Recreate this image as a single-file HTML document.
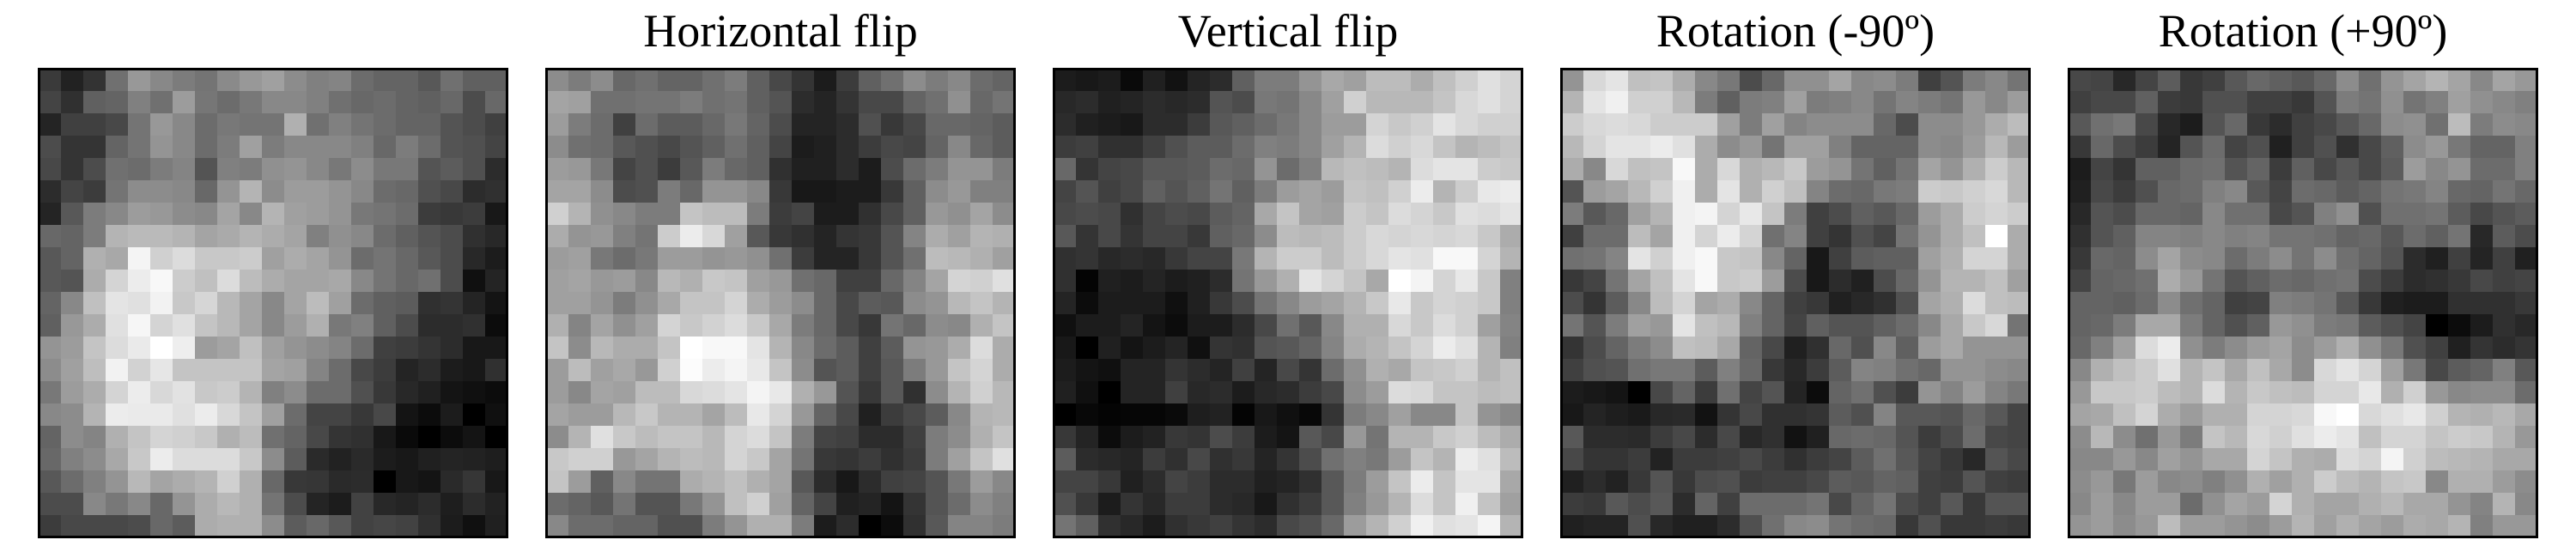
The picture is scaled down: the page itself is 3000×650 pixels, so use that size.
<!DOCTYPE html>
<html><head><meta charset="utf-8"><style>
html,body{margin:0;padding:0;background:#fff;width:3000px;height:650px;overflow:hidden}
text{font-family:"Liberation Serif",serif}
</style></head><body>
<svg id="fig" width="3000" height="650" viewBox="0 0 3000 650" xmlns="http://www.w3.org/2000/svg">
<rect x="0" y="0" width="3000" height="650" fill="#fff"/>
</svg>
<script>
const titles = ["", "Horizontal flip", "Vertical flip", "Rotation (-90º)", "Rotation (+90º)"];
const panel1 = [
[58,34,51,112,152,136,124,116,138,152,160,140,128,132,108,100,100,88,112,96,96],
[68,48,96,100,128,112,156,118,108,120,136,136,128,112,104,108,100,96,104,76,104],
[36,64,64,72,116,152,136,108,120,116,116,176,112,128,116,108,100,100,84,76,64],
[76,52,52,100,116,148,136,108,124,160,124,136,136,136,128,104,124,108,84,80,68],
[72,52,76,112,108,124,132,84,128,124,144,148,136,120,140,120,120,84,92,80,44],
[44,68,60,116,140,140,136,104,148,180,140,156,156,148,136,108,104,80,72,44,48],
[36,88,124,136,156,152,140,136,164,136,180,160,156,148,120,116,108,60,56,60,24],
[104,100,124,180,186,186,180,164,170,180,172,164,128,144,136,108,96,84,76,48,40],
[88,100,176,168,244,208,220,200,200,204,160,172,164,148,108,116,104,88,76,40,28],
[88,84,172,212,236,248,204,192,220,188,172,164,164,168,136,116,104,112,76,16,36],
[100,136,192,228,224,242,200,214,184,164,136,164,188,160,108,96,92,48,52,36,20],
[96,152,172,224,246,212,224,196,184,164,136,156,176,120,128,96,76,44,44,48,12],
[148,156,196,220,234,255,238,156,164,192,160,148,140,132,108,64,60,52,44,24,24],
[140,160,190,242,210,230,196,196,196,196,164,160,132,108,72,60,36,44,28,24,48],
[120,156,172,212,236,216,226,200,204,180,128,140,108,108,80,56,40,32,20,16,12],
[136,140,180,236,234,234,224,236,216,196,160,108,68,68,56,72,20,12,28,0,16],
[100,140,132,176,196,212,208,200,176,188,112,100,72,52,48,24,10,0,12,20,0],
[104,128,140,168,200,236,220,220,220,200,140,92,42,34,42,28,24,32,36,34,30],
[88,108,128,148,184,164,172,180,208,176,104,56,54,42,44,0,24,20,42,54,24],
[76,76,136,120,136,104,148,172,184,176,116,76,36,28,66,40,36,44,30,44,34],
[60,72,72,72,76,104,92,172,176,176,140,92,104,88,66,70,66,48,28,16,32]];
const panel2 = [
[140,124,140,104,112,100,100,112,124,96,72,52,28,60,96,112,140,124,136,108,100],
[164,160,112,112,116,116,124,112,116,96,84,44,36,52,72,72,100,112,144,104,116],
[156,124,108,64,108,92,92,104,120,100,76,36,36,44,80,56,72,104,104,100,92],
[140,112,108,88,80,72,84,96,112,96,68,28,32,44,60,72,68,100,136,104,92],
[156,152,120,68,80,60,88,124,104,96,48,32,32,44,28,76,108,124,148,148,124],
[164,164,140,76,80,124,104,148,148,136,56,24,24,28,28,56,96,140,152,128,128],
[208,180,144,136,124,124,196,188,188,124,60,68,28,28,48,72,96,152,144,164,140],
[172,148,152,128,116,204,236,216,160,88,56,48,36,52,56,84,132,172,160,180,176],
[156,160,120,108,120,156,156,148,152,144,112,60,36,36,56,84,112,188,184,176,160],
[160,164,152,156,136,184,176,200,196,160,152,112,104,64,64,104,132,164,212,208,224],
[160,160,148,124,144,168,196,196,212,172,156,140,104,72,92,88,140,148,184,196,180],
[176,132,164,144,160,212,200,210,220,200,168,124,104,72,56,116,104,140,136,176,196],
[196,140,184,172,172,196,255,248,248,228,180,136,108,92,64,92,148,152,172,220,172],
[156,188,160,168,152,208,252,236,244,232,196,140,84,92,64,88,124,152,196,212,172],
[156,136,164,160,188,188,216,220,228,244,232,176,152,84,56,88,48,140,180,208,184],
[164,156,156,184,200,180,180,164,188,232,212,152,100,72,32,60,72,92,136,180,184],
[140,180,224,200,188,196,196,184,212,220,196,124,68,64,44,44,64,124,140,176,196],
[200,208,208,152,164,180,188,184,212,200,164,116,56,52,60,48,60,124,160,196,224],
[196,156,96,136,116,116,172,180,192,176,164,88,44,24,44,64,68,84,120,156,136],
[108,100,88,116,84,84,120,148,192,208,160,100,68,32,36,20,52,84,108,140,128],
[136,108,108,100,100,80,80,124,148,176,176,124,28,44,0,12,48,88,132,132,124]];
const panel3 = [
[28,24,28,10,32,18,36,44,96,124,124,148,168,160,188,188,172,192,208,224,212],
[40,44,32,36,44,40,44,84,76,120,116,136,160,208,184,184,184,196,216,224,212],
[44,32,28,24,44,44,60,88,96,108,120,136,156,156,212,200,208,228,216,208,208],
[60,64,48,48,64,80,92,92,108,128,124,136,160,180,220,208,216,196,180,188,196],
[104,52,68,72,88,88,92,108,104,148,108,128,184,192,188,180,220,228,228,204,200],
[68,84,64,72,96,84,96,116,96,124,156,164,156,196,192,208,236,180,204,232,236],
[72,76,72,48,68,76,72,92,100,168,196,164,160,204,196,220,212,200,224,220,228],
[88,52,72,52,68,68,56,96,104,140,188,184,188,204,216,212,216,212,216,200,172],
[48,52,40,44,40,56,68,68,120,180,204,204,188,204,216,228,224,248,248,212,180],
[48,4,32,28,36,28,32,44,116,152,176,228,212,196,168,255,244,212,232,200,128],
[36,12,28,28,28,16,32,56,76,116,136,156,164,180,200,232,200,212,208,200,128],
[16,28,28,36,20,12,28,28,44,72,112,88,136,176,176,216,200,220,208,160,132],
[24,0,32,20,28,36,16,52,48,84,88,100,132,172,180,196,212,236,224,180,128],
[28,20,16,36,36,52,44,36,64,36,72,52,108,144,176,168,196,200,208,180,192],
[32,16,0,36,36,64,40,44,28,40,44,60,72,140,156,220,216,196,196,188,192],
[0,8,4,6,6,10,30,34,4,24,16,8,52,124,136,160,136,136,196,148,136],
[56,36,12,28,34,56,52,76,60,28,20,88,72,152,116,180,180,200,208,188,172],
[92,44,40,36,60,48,72,48,56,36,52,76,112,128,120,156,196,180,236,224,188],
[68,68,56,32,44,68,60,44,44,32,36,48,88,124,156,196,236,196,228,228,168],
[80,56,28,52,40,60,60,44,40,24,48,60,88,128,152,180,220,196,240,196,160],
[116,96,48,40,28,48,56,64,52,44,72,80,104,156,180,208,240,224,228,244,180]];
const panel4 = [
[148,216,228,192,196,172,136,120,76,104,144,144,164,136,140,124,64,84,124,136,116],
[180,228,240,208,208,184,124,96,124,128,160,124,128,136,116,132,124,116,152,136,156],
[204,216,220,216,204,204,204,160,124,160,132,140,140,140,104,76,140,140,152,172,188],
[184,212,228,228,236,224,172,140,152,116,160,160,128,100,100,100,140,136,156,184,156],
[172,136,216,192,196,248,172,216,176,184,200,156,148,116,96,116,164,148,176,204,184],
[84,156,164,184,208,240,172,228,176,208,192,132,108,104,120,124,204,200,208,216,184],
[124,88,104,160,180,240,244,212,232,196,124,64,76,96,88,104,156,172,204,212,204],
[64,108,108,188,164,240,212,236,212,112,132,64,52,80,68,116,148,172,192,255,172],
[112,116,132,228,208,240,248,200,196,136,100,24,64,92,96,96,160,176,212,212,172],
[56,68,116,164,192,228,248,200,204,156,76,24,44,32,76,104,148,180,180,192,160],
[76,52,92,136,188,212,164,172,136,100,64,56,32,40,48,80,164,176,220,192,188],
[116,84,124,160,152,228,192,184,128,100,68,96,84,84,96,108,136,168,200,216,116],
[52,76,100,124,140,192,188,168,100,72,32,48,104,80,136,96,156,168,148,148,148],
[64,80,84,112,120,120,92,128,104,56,40,60,92,132,128,112,104,148,148,140,136],
[28,24,20,0,72,100,60,112,68,84,36,12,100,112,80,60,148,132,156,132,120],
[24,36,30,26,40,42,18,52,72,48,48,52,92,80,132,88,88,84,104,88,68],
[88,44,44,42,60,72,44,72,40,48,18,32,104,108,104,84,60,76,108,72,68],
[72,52,52,60,34,60,60,64,72,60,48,60,68,92,112,88,68,56,40,84,72],
[32,44,34,56,84,56,76,80,60,64,64,72,92,88,100,96,64,60,84,64,60],
[60,56,88,76,88,44,100,64,108,108,108,116,72,100,116,76,64,88,56,84,84],
[32,36,36,80,40,32,32,44,80,112,136,140,116,108,104,56,80,56,56,60,56]];
const panel5 = [
[72,68,40,68,92,56,64,88,104,96,88,104,140,112,148,164,180,164,136,164,152],
[64,72,72,96,60,56,80,80,64,64,56,84,124,116,144,116,128,160,144,136,128],
[88,112,120,72,40,28,84,104,56,44,64,72,88,104,140,144,112,188,124,140,136],
[56,104,76,60,36,84,108,68,80,32,64,80,48,72,96,140,152,120,100,100,128],
[28,68,52,96,96,108,112,84,100,60,96,72,88,72,92,156,136,148,108,108,128],
[32,72,60,80,104,108,128,136,88,68,108,104,92,100,116,120,132,104,100,116,104],
[40,84,76,104,104,100,136,112,112,72,84,128,144,80,112,112,116,92,72,84,92],
[48,84,96,132,132,128,136,128,132,116,116,112,100,104,88,108,96,116,40,92,76],
[56,104,100,140,164,140,136,108,124,140,116,140,112,100,84,44,32,64,36,64,32],
[68,100,104,112,172,152,116,84,96,108,104,112,116,76,60,44,48,56,72,64,68],
[100,100,96,108,140,112,100,64,68,128,124,116,88,56,32,28,28,48,48,48,56],
[100,104,124,168,168,124,100,80,96,152,144,124,120,92,80,68,0,12,28,48,40],
[104,128,160,220,236,144,124,140,156,164,140,156,176,144,120,80,64,32,52,44,52],
[136,176,192,204,224,180,196,168,192,168,140,216,228,212,160,120,72,92,100,128,88],
[152,200,200,204,188,180,220,180,200,192,188,212,212,232,176,208,152,136,140,140,108],
[164,168,192,212,172,156,176,176,212,212,216,248,255,216,224,232,208,180,176,184,168],
[140,184,140,112,152,124,196,184,216,208,224,236,228,192,212,212,196,204,200,180,152],
[136,136,152,136,160,148,168,168,212,196,176,172,220,212,244,208,188,184,180,168,168],
[140,152,120,156,136,140,128,144,176,160,176,204,188,180,196,200,136,176,176,156,140],
[136,156,136,156,156,108,144,164,156,212,176,164,164,176,184,168,168,148,132,180,136],
[148,156,140,152,188,156,156,148,140,156,180,160,176,164,156,172,168,180,128,152,152]];
const panels = [panel1, panel2, panel3, panel4, panel5];

const NS = "http://www.w3.org/2000/svg";
const svg = document.getElementById('fig');
const PANEL_X0 = 44, PANEL_STEP = 591, PANEL_Y0 = 79, PANEL_W = 548;
function xScale(p, c, n) { return PANEL_X0 + p * PANEL_STEP + 1 + c * (PANEL_W - 2) / n; }
function yScale(r, n) { return PANEL_Y0 + 1 + r * (PANEL_W - 2) / n; }

panels.forEach((grid, p) => {
  const g = document.createElementNS(NS, 'g');
  
  
  svg.appendChild(g);
  const n = grid.length;
  const cs = (PANEL_W - 2) / n;
  grid.forEach((row, r) => {
    row.forEach((v, c) => {
      const rect = document.createElementNS(NS, 'rect');
      rect.setAttribute('x', xScale(p, c, row.length));
      rect.setAttribute('y', yScale(r, n));
      rect.setAttribute('width', cs + 0.6);
      rect.setAttribute('height', cs + 0.6);
      const g2 = Math.max(0, Math.min(255, Math.round(v)));
      rect.setAttribute('fill', 'rgb(' + g2 + ',' + g2 + ',' + g2 + ')');
      
      
      g.appendChild(rect);
    });
  });
  const frame = document.createElementNS(NS, 'rect');
  frame.setAttribute('x', PANEL_X0 + p * PANEL_STEP + 1.5);
  frame.setAttribute('y', PANEL_Y0 + 1.5);
  frame.setAttribute('width', PANEL_W - 3);
  frame.setAttribute('height', PANEL_W - 3);
  frame.setAttribute('fill', 'none');
  frame.setAttribute('stroke', '#000');
  frame.setAttribute('stroke-width', '3');
  
  
  g.appendChild(frame);
  if (titles[p]) {
    const t = document.createElementNS(NS, 'text');
    t.setAttribute('x', PANEL_X0 + p * PANEL_STEP + PANEL_W / 2);
    t.setAttribute('y', 54);
    t.setAttribute('text-anchor', 'middle');
    t.setAttribute('font-size', '54');
    t.setAttribute('fill', '#000');
    t.textContent = titles[p];
    
    
    svg.appendChild(t);
  }
});
</script>
</body></html>
